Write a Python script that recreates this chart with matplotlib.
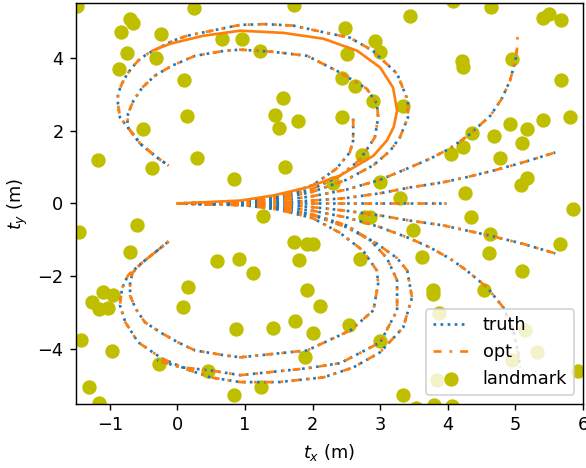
import matplotlib
matplotlib.use("Agg")
import matplotlib.pyplot as plt

# trajetorias (x, y)

straight_x = [0, 1.0, 2.0, 3.0, 3.98]
straight_y = [0, 0, 0, 0, 0]

up_slight_x = [0, 1.0, 1.5, 2.0, 2.5, 3.0, 3.44, 3.93, 4.3, 4.67, 5.1, 5.59]
up_slight_y = [0, 0.0, 0.03, 0.08, 0.15, 0.28, 0.44, 0.58, 0.73, 0.90, 1.12, 1.40]

down_slight_x = [0, 1.0, 1.5, 2.0, 2.5, 3.0, 3.44, 3.93, 4.62, 5.1, 5.59]
down_slight_y = [0, 0.0, -0.03, -0.10, -0.20, -0.33, -0.47, -0.60, -0.88, -1.10, -1.37]

up_mid_x = [0, 1.0, 1.5, 2.0, 2.5, 3.0, 3.44, 3.74, 4.03, 4.30, 4.63, 4.80, 4.92, 5.0, 5.03]
up_mid_y = [0, 0.02, 0.08, 0.20, 0.38, 0.65, 0.99, 1.23, 1.51, 1.86, 2.41, 2.88, 3.37, 3.92, 4.33]
up_mid_opt_x = [0, 1.0, 1.5, 2.0, 2.5, 3.0, 3.44, 3.74, 4.03, 4.30, 4.63, 4.80, 4.92, 5.0, 5.03, 5.03]
up_mid_opt_y = [0, 0.02, 0.08, 0.20, 0.38, 0.65, 0.99, 1.23, 1.51, 1.86, 2.41, 2.88, 3.37, 3.92, 4.33, 4.60]

down_mid_x = [0, 1.0, 1.5, 2.0, 2.5, 3.0, 3.44, 3.74, 4.03, 4.28, 4.58, 4.82, 4.97, 5.04, 5.07]
down_mid_y = [0, -0.02, -0.08, -0.20, -0.38, -0.65, -0.96, -1.21, -1.51, -1.84, -2.30, -2.85, -3.48, -4.11, -4.49]

up_short_x = [0, 1.0, 1.5, 2.0, 2.35, 2.55, 2.6, 2.6]
up_short_y = [0, 0.06, 0.20, 0.50, 0.95, 1.40, 1.73, 2.33]

up_inner_x = [0, 1.0, 1.5, 2.0, 2.4, 2.7, 2.92, 2.97, 2.95, 2.80, 2.41, 1.92, 1.42, 0.93, 0.70, 0.26,
              -0.08, -0.33, -0.52, -0.65, -0.73, -0.74, -0.73, -0.55, -0.30, -0.13]
up_inner_y = [0, 0.05, 0.17, 0.40, 0.75, 1.20, 1.81, 2.36, 2.74, 3.15, 3.59, 4.05, 4.16, 4.22, 4.19, 4.05,
              3.78, 3.51, 3.18, 2.82, 2.47, 2.19, 2.08, 1.64, 1.26, 1.04]

up_outer_x = [0, 1.0, 1.5, 2.0, 2.5, 2.9, 3.15, 3.29, 3.41, 3.41, 3.25, 2.89, 2.55, 2.26, 1.71, 1.3,
              0.93, 0.14, -0.06, -0.45, -0.58, -0.67, -0.74, -0.82, -0.88, -0.88, -0.85, -0.73,
              -0.55, -0.30, -0.13]
up_outer_y = [0, 0.04, 0.13, 0.32, 0.65, 1.05, 1.45, 1.81, 2.36, 2.82, 3.56, 4.19, 4.55, 4.66, 4.88, 4.92,
              4.90, 4.60, 4.47, 4.10, 3.92, 3.73, 3.56, 3.29, 3.01, 2.74, 2.36, 2.08,
              1.64, 1.26, 1.04]

# laco do meio (so opt, linha cheia)
up_solid_x = [0, 0.93, 1.42, 1.92, 2.41, 2.9, 3.10, 3.2, 3.25, 3.19, 3.0, 2.66, 2.16, 1.57, 0.93,
              0.38, -0.11, -0.37]
up_solid_y = [0, 0.08, 0.22, 0.44, 0.77, 1.31, 1.73, 2.1, 2.55, 3.18, 3.73, 4.19, 4.52, 4.68, 4.74,
              4.60, 4.38, 4.19]

low_inner_x = [0, 1.0, 1.5, 2.0, 2.4, 2.75, 2.95, 2.97, 2.90, 2.56, 1.92, 0.93, 0.68, 0.26, 0.01,
               -0.23, -0.48, -0.62, -0.70, -0.70, -0.66, -0.52, -0.33, -0.13]
low_inner_y = [0, -0.05, -0.17, -0.40, -0.80, -1.30, -1.84, -2.19, -2.93, -3.48, -4.03, -4.22, -4.16,
               -4.03, -3.81, -3.56, -3.26, -2.88, -2.52, -2.16, -1.89, -1.62, -1.34, -1.04]

low_middle_x = [0, 1.0, 1.5, 2.0, 2.5, 2.85, 3.1, 3.25, 3.25, 3.0, 2.41, 1.92, 0.93, 0.49, 0.04, -0.30]
low_middle_y = [0, -0.04, -0.12, -0.30, -0.60, -1.00, -1.50, -2.11, -2.93, -3.81, -4.38, -4.52, -4.71,
                -4.58, -4.49, -4.30]

low_outer_x = [0, 1.0, 1.5, 2.0, 2.5, 2.95, 3.25, 3.40, 3.47, 3.34, 3.0, 2.6, 2.16, 1.5, 0.93, 0.49,
               0.14, -0.23, -0.58, -0.77, -0.85, -0.82, -0.73, -0.52, -0.33, -0.13]
low_outer_y = [0, -0.04, -0.13, -0.32, -0.65, -1.10, -1.50, -1.84, -2.58, -3.40, -4.08, -4.50, -4.77,
               -4.90, -4.90, -4.77, -4.55, -4.25, -3.81, -3.26, -2.79, -2.33, -1.97, -1.62, -1.34, -1.04]

# landmarks
lm_x = [0.25, -0.70, -0.66, -0.83, -0.24, -0.74, -0.86, -0.32, 0.66, 0.96, 0.10, 0.14, -0.51,
        1.73, 3.44, 2.48, 1.22, 2.92, 3.00, 2.51, 2.44, 2.63, 2.90, 3.34, 1.56, 1.45, 1.50, 1.78, 2.44,
        4.64, 5.41, 5.50, 5.68, 4.21, 4.23, 4.95, 5.68, 4.92, 5.17, 5.41, 5.81, 4.36, 4.68, 5.10, 4.08,
        -1.17, -0.37, 0.29, 0.84, -1.45, -0.60, -0.70, 0.59, 0.91,
        1.59, 2.73, 2.30, 3.00, 3.29, 1.27, 2.78, 2.85, 3.49, 1.73, 1.92, 2.01, 1.80, 2.70, 1.12,
        4.23, 4.05, 4.77, 5.17, 5.08, 4.26, 5.85, 4.34, 4.63, 5.66, 3.62, 4.61, 5.10,
        -1.10, -0.95, -1.26, -1.16, -1.02, 0.16, 0.08, -1.42, -0.97, 0.87, -0.27, 0.45, -1.31, -1.16, 0.84,
        1.92, 2.11, 1.74, 1.42, 2.01, 2.54, 1.89, 3.00, 1.24, 3.34,
        3.78, 3.78, 4.54, 3.87, 5.14, 5.32, 4.95, 5.93, 3.84, 3.53, 3.80, 4.06, -1.48]
lm_y = [5.37, 5.07, 4.96, 4.71, 4.66, 4.14, 3.70, 4.00, 4.52, 4.52, 3.40, 2.41, 2.05,
        5.45, 5.15, 4.82, 4.19, 4.47, 4.16, 4.11, 3.45, 3.21, 2.82, 2.68, 2.90, 2.44, 2.08, 2.25, 2.36,
        5.40, 5.10, 5.21, 5.04, 3.92, 3.75, 3.97, 3.40, 2.19, 2.05, 2.30, 2.38, 1.92, 1.84, 1.67, 5.55,
        1.18, 0.96, 1.26, 0.66, -0.77, -0.60, -1.32, -1.59, -1.51,
        0.99, 1.32, 0.55, 0.58, 0.14, -0.33, -0.36, -0.38, -0.74, -1.07, -1.10, -1.10, -1.56, -1.53, -1.92,
        1.56, 1.37, 1.26, 0.71, 0.52, 0.30, -0.14, -0.38, -0.85, -1.10, -1.48, -1.37, -1.84,
        -2.44, -2.52, -2.71, -2.90, -2.88, -2.30, -2.85, -3.75, -4.05, -3.45, -4.41, -4.60, -5.04, -5.48, -5.26,
        -2.36, -2.82, -3.21, -3.42, -3.56, -3.32, -4.22, -3.78, -5.04, -5.26,
        -2.36, -2.47, -2.38, -3.01, -3.48, -4.08, -4.30, -4.60, -4.85, -5.62, -5.52, -5.56, 5.42]

truth_paths = [
    (straight_x, straight_y),
    (up_slight_x, up_slight_y),
    (down_slight_x, down_slight_y),
    (up_mid_x, up_mid_y),
    (down_mid_x, down_mid_y),
    (up_short_x, up_short_y),
    (up_inner_x, up_inner_y),
    (up_outer_x, up_outer_y),
    (low_inner_x, low_inner_y),
    (low_middle_x, low_middle_y),
    (low_outer_x, low_outer_y),
]

opt_paths = [
    (straight_x, straight_y),
    (up_slight_x, up_slight_y),
    (down_slight_x, down_slight_y),
    (up_mid_opt_x, up_mid_opt_y),
    (down_mid_x, down_mid_y),
    (up_short_x, up_short_y),
    (up_inner_x, up_inner_y),
    (up_outer_x, up_outer_y),
    (low_inner_x, low_inner_y),
    (low_middle_x, low_middle_y),
    (low_outer_x, low_outer_y),
]

DPI = 128
fig = plt.figure(figsize=(586 / DPI, 468 / DPI), dpi=DPI)
ax = fig.add_axes([0.1297, 0.1368, 0.8652, 0.8568])

opt_style = (0, (3, 3, 1, 3))

for i, (x, y) in enumerate(truth_paths):
    ax.plot(x, y, ":", color="C0", label="truth" if i == 0 else None)

for i, (x, y) in enumerate(opt_paths):
    ax.plot(x, y, linestyle=opt_style, color="C1", label="opt" if i == 0 else None)

ax.plot(up_solid_x, up_solid_y, "-", color="C1")

ax.scatter(lm_x, lm_y, s=50, color="y", label="landmark")

ax.set_xlim(-1.5, 6)
ax.set_ylim(-5.5, 5.5)
ax.set_xlabel("$t_x$ (m)")
ax.set_ylabel("$t_y$ (m)")
ax.legend(loc="lower right")

fig.savefig("out.png", dpi=DPI)
